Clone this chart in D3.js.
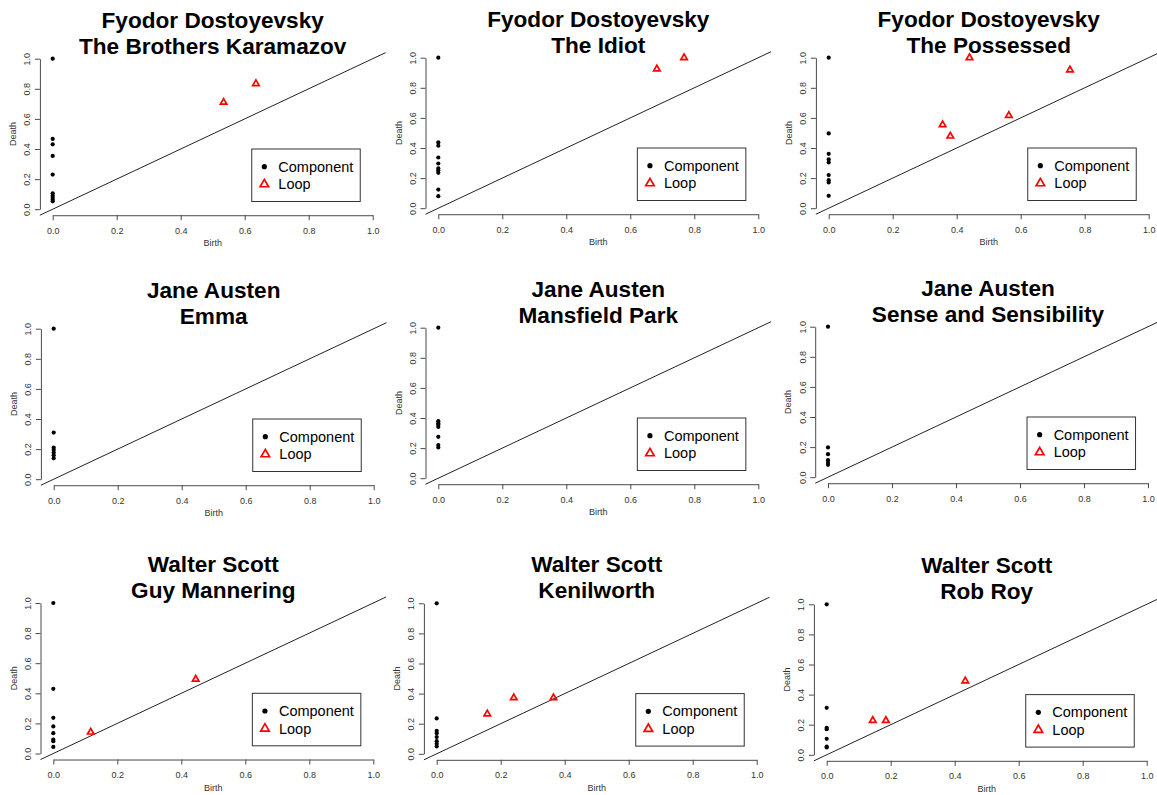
<!DOCTYPE html>
<html>
<head>
<meta charset="utf-8">
<script src="https://cdn.jsdelivr.net/npm/d3@7"></script>
<style>
  body { margin: 0; background: #fff; }
  svg { display: block; font-family: "Liberation Sans", Arial, sans-serif; }
</style>
</head>
<body>
<svg id="chart" width="1157" height="795"></svg>
<script>
// Persistence diagrams: one panel per novel
const authors = [
  "Fyodor Dostoyevsky", "Fyodor Dostoyevsky", "Fyodor Dostoyevsky",
  "Jane Austen", "Jane Austen", "Jane Austen",
  "Walter Scott", "Walter Scott", "Walter Scott"
];
const novels = [
  "The Brothers Karamazov", "The Idiot", "The Possessed",
  "Emma", "Mansfield Park", "Sense and Sensibility",
  "Guy Mannering", "Kenilworth", "Rob Roy"
];

// Components (dimension 0) are all born at 0; only their death values vary
const componentDeath = [
  [1.0, 0.467, 0.431, 0.354, 0.230, 0.106, 0.090, 0.075, 0.062, 0.052],
  [1.0, 0.437, 0.415, 0.337, 0.297, 0.264, 0.250, 0.235, 0.124, 0.080],
  [1.0, 0.497, 0.361, 0.324, 0.304, 0.220, 0.186, 0.171, 0.082],
  [1.0, 0.310, 0.210, 0.195, 0.177, 0.159, 0.139],
  [1.0, 0.379, 0.364, 0.355, 0.341, 0.275, 0.220, 0.204],
  [1.0, 0.198, 0.153, 0.113, 0.096, 0.082],
  [1.0, 0.430, 0.237, 0.180, 0.135, 0.093, 0.082, 0.044],
  [1.0, 0.235, 0.153, 0.137, 0.111, 0.084, 0.066, 0.049],
  [1.0, 0.312, 0.179, 0.170, 0.106, 0.055, 0.049]
];

// Loops (dimension 1): birth and death values
const loopBirth = [
  [0.534, 0.635],
  [0.683, 0.768],
  [0.356, 0.380, 0.440, 0.563, 0.754],
  [],
  [],
  [],
  [0.117, 0.445],
  [0.158, 0.241, 0.365],
  [0.144, 0.185, 0.433]
];
const loopDeath = [
  [0.710, 0.834],
  [0.925, 1.0],
  [0.554, 0.479, 1.0, 0.616, 0.918],
  [],
  [],
  [],
  [0.142, 0.494],
  [0.265, 0.372, 0.372],
  [0.228, 0.228, 0.491]
];

const tickValues = [0, 0.2, 0.4, 0.6, 0.8, 1.0];
const legendLabels = ["Component", "Loop"];
const xTitle = "Birth";
const yTitle = "Death";

// Panel frames: pixel position of birth = 0 and of death = 1 in each panel
const frameX0 = [52.7, 438.3, 828.7, 53.7, 438.3, 828.0, 53.3, 436.7, 826.7];
const frameY1 = [58.7, 57.7, 57.7, 328.7, 327.7, 326.7, 603.0, 603.3, 604.3];
const showXTitle = [true, true, true, true, true, false, true, true, true];
const unitW = 320, unitH = 150.5;
const pad = 0.04;

const svg = d3.select("#chart");
const axisColor = "#4a4a4a";
const textColor = "#333";

function trianglePath(s) {
  const h = s * Math.sqrt(3) / 2;
  return `M0,${-2 * h / 3}L${s / 2},${h / 3}L${-s / 2},${h / 3}Z`;
}

authors.forEach((author, i) => {
  const x0 = frameX0[i], y1 = frameY1[i];
  const x = d3.scaleLinear().domain([-pad, 1 + pad])
    .range([x0 - pad * unitW, x0 + (1 + pad) * unitW]);
  const y = d3.scaleLinear().domain([-pad, 1 + pad])
    .range([y1 + (1 + pad) * unitH, y1 - pad * unitH]);
  const left = x(-pad), right = x(1 + pad), top = y(1 + pad), bottom = y(-pad);

  const g = svg.append("g");

  // Title (two lines)
  const cx = (left + right) / 2;
  const title = g.append("text")
    .attr("text-anchor", "middle")
    .attr("font-size", 22.6)
    .attr("font-weight", "bold")
    .attr("fill", "#000");
  title.append("tspan").attr("x", cx).attr("y", y(1) - 31).text(author);
  title.append("tspan").attr("x", cx).attr("y", y(1) - 5).text(novels[i]);

  // Axes spanning 0..1 at the plot-region edges
  const xa = d3.scaleLinear().domain([0, 1]).range([x(0), x(1)]);
  const ya = d3.scaleLinear().domain([0, 1]).range([y(0), y(1)]);

  const gx = g.append("g").attr("transform", `translate(0,${bottom})`)
    .call(d3.axisBottom(xa).tickValues(tickValues).tickFormat(d3.format(".1f"))
      .tickSizeInner(5).tickSizeOuter(0).tickPadding(7));
  gx.select(".domain").attr("stroke", axisColor);
  gx.selectAll(".tick line").attr("stroke", axisColor);
  gx.selectAll(".tick text").attr("fill", textColor).attr("font-size", 9)
    .attr("font-family", "Liberation Sans, Arial, sans-serif");

  const gy = g.append("g").attr("transform", `translate(${left},0)`)
    .call(d3.axisLeft(ya).tickValues(tickValues).tickFormat(d3.format(".1f"))
      .tickSizeInner(5).tickSizeOuter(0));
  gy.select(".domain").attr("stroke", axisColor);
  gy.selectAll(".tick line").attr("stroke", axisColor);
  gy.selectAll(".tick text")
    .attr("fill", textColor).attr("font-size", 9)
    .attr("font-family", "Liberation Sans, Arial, sans-serif")
    .attr("text-anchor", "middle")
    .attr("x", 0).attr("y", -9.5).attr("dy", 0)
    .attr("transform", "rotate(-90)");

  // Axis titles
  if (showXTitle[i]) {
    g.append("text").attr("x", cx).attr("y", bottom + 31)
      .attr("text-anchor", "middle").attr("font-size", 9).attr("fill", textColor)
      .text(xTitle);
  }
  const cy = (top + bottom) / 2;
  g.append("text")
    .attr("transform", `translate(${left - 24},${cy}) rotate(-90)`)
    .attr("text-anchor", "middle").attr("font-size", 9).attr("fill", textColor)
    .text(yTitle);

  // Diagonal birth = death
  g.append("line")
    .attr("x1", x(-pad)).attr("y1", y(-pad))
    .attr("x2", x(1 + pad)).attr("y2", y(1 + pad))
    .attr("stroke", "#222").attr("stroke-width", 1);

  // Components
  g.append("g").selectAll("circle").data(componentDeath[i]).join("circle")
    .attr("cx", x(0)).attr("cy", d => y(d)).attr("r", 2.1).attr("fill", "#000");

  // Loops
  const loops = loopBirth[i].map((b, k) => ({ b, d: loopDeath[i][k] }));
  g.append("g").selectAll("path").data(loops).join("path")
    .attr("transform", d => `translate(${x(d.b)},${y(d.d)})`)
    .attr("d", trianglePath(6.5))
    .attr("fill", "none").attr("stroke", "#ff0000").attr("stroke-width", 1.7);

  // Legend
  const lx = x(0.622), ly = y(0.40);
  const lg = g.append("g").attr("transform", `translate(${lx},${ly})`);
  lg.append("rect").attr("x", 0).attr("y", 0).attr("width", 108.5).attr("height", 52.5)
    .attr("fill", "#fff").attr("stroke", "#333").attr("stroke-width", 1);
  lg.append("circle").attr("cx", 12.6).attr("cy", 17.7).attr("r", 2.6).attr("fill", "#000");
  lg.append("path").attr("transform", "translate(12.6,35.3)").attr("d", trianglePath(8.5))
    .attr("fill", "none").attr("stroke", "#ff0000").attr("stroke-width", 1.7);
  lg.selectAll("text.lab").data(legendLabels).join("text").attr("class", "lab")
    .attr("x", 26.6).attr("y", (d, k) => 17.7 + k * 17.6).attr("dy", "0.35em")
    .attr("font-size", 14.5).attr("fill", "#000").text(d => d);
});
</script>
</body>
</html>
